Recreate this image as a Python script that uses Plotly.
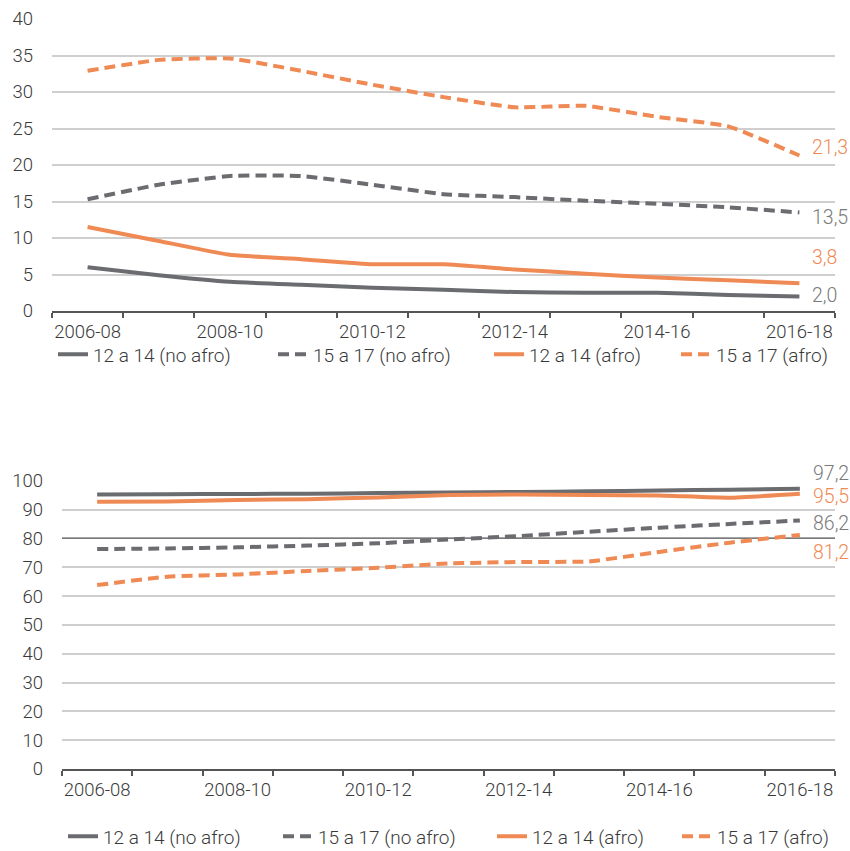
import plotly.graph_objects as go

# ---------------- data ----------------
periods = ["2006-08", "2007-09", "2008-10", "2009-11", "2010-12", "2011-13",
           "2012-14", "2013-15", "2014-16", "2015-17", "2016-18"]
series_names = ["12 a 14 (no afro)", "15 a 17 (no afro)", "12 a 14 (afro)", "15 a 17 (afro)"]

# top chart
top_12_14_no_afro = [6.0, 4.9, 4.0, 3.6, 3.2, 2.9, 2.6, 2.5, 2.5, 2.2, 2.0]
top_15_17_no_afro = [15.3, 17.3, 18.5, 18.5, 17.3, 16.0, 15.6, 15.1, 14.7, 14.2, 13.5]
top_12_14_afro = [11.5, 9.6, 7.7, 7.1, 6.4, 6.4, 5.7, 5.1, 4.6, 4.2, 3.8]
top_15_17_afro = [32.9, 34.4, 34.6, 32.9, 31.0, 29.3, 27.9, 28.1, 26.6, 25.3, 21.3]

# bottom chart
bot_12_14_no_afro = [95.2, 95.3, 95.4, 95.5, 95.7, 95.9, 96.1, 96.3, 96.6, 96.9, 97.2]
bot_15_17_no_afro = [76.3, 76.5, 76.9, 77.5, 78.3, 79.6, 80.8, 82.3, 83.7, 85.0, 86.2]
bot_12_14_afro = [92.7, 92.8, 93.3, 93.6, 94.2, 95.0, 95.2, 95.0, 94.9, 94.1, 95.5]
bot_15_17_afro = [63.8, 66.7, 67.5, 68.7, 69.8, 71.3, 71.8, 72.0, 75.3, 78.5, 81.2]

top_ticks = [0, 5, 10, 15, 20, 25, 30, 35, 40]
bot_ticks = [0, 10, 20, 30, 40, 50, 60, 70, 80, 90, 100]
bot_reference = 80

# ---------------- style ----------------
FONT = "Roboto, sans-serif"
GRAY = "#6b6c70"
ORANGE = "#ef8a55"
LABEL_GRAY = "#7a7a7a"
TEXT = "#3a3a3a"
DASH = "11px,6px"
colors = [GRAY, GRAY, ORANGE, ORANGE]
label_colors = [LABEL_GRAY, LABEL_GRAY, ORANGE, ORANGE]
dashes = ["solid", DASH, "solid", DASH]
top_label_shift = [1, -5, 26, 8]
bot_label_shift = [15, -3, -3, -18]
top_legend_text_x = [100, 320, 536, 723]
bot_legend_text_x = [110, 325, 539, 724]
TICK_FS = 18.5
LEG_FS = 19
LAB_FS = 19.5
WEIGHT = 300

top_series = [top_12_14_no_afro, top_15_17_no_afro, top_12_14_afro, top_15_17_afro]
bot_series = [bot_12_14_no_afro, bot_15_17_no_afro, bot_12_14_afro, bot_15_17_afro]

W, H = 850, 851
fig = go.Figure()
annotations = []
legends = {}

def fmt(v):
    return f"{v:.1f}".replace(".", ",")

for series_set, xa, ya, shifts, ltx, ly, offset in [
        (top_series, "x", "y", top_label_shift, top_legend_text_x, 354.5, 0),
        (bot_series, "x2", "y2", bot_label_shift, bot_legend_text_x, 836.5, 4)]:
    for i, vals in enumerate(series_set):
        lid = "legend" if (offset + i) == 0 else f"legend{offset + i + 1}"
        fig.add_trace(go.Scatter(
            x=periods, y=vals, mode="lines", name=series_names[i],
            xaxis=xa, yaxis=ya, legend=lid, showlegend=True,
            line=dict(color=colors[i], width=4, dash=dashes[i], shape="spline", smoothing=0.4),
            hoverinfo="skip"))
        legends[lid] = dict(
            x=(ltx[i] - 47) / W, y=1 - ly / H, xanchor="left", yanchor="middle",
            orientation="h", bgcolor="rgba(0,0,0,0)", borderwidth=0,
            font=dict(family=FONT, size=LEG_FS, color=TEXT, weight=WEIGHT))
        annotations.append(dict(
            x=periods[-1], y=vals[-1], xref=xa, yref=ya, text=fmt(vals[-1]),
            showarrow=False, xanchor="left", yanchor="middle", xshift=11,
            yshift=shifts[i],
            font=dict(family=FONT, size=LAB_FS, color=label_colors[i], weight=WEIGHT)))

tick_text = [p if j % 2 == 0 else "" for j, p in enumerate(periods)]

def xaxis(domain, anchor):
    return dict(domain=domain, anchor=anchor, type="category", categoryorder="array",
                categoryarray=periods, range=[-0.5, len(periods) - 0.5],
                tickmode="array", tickvals=periods, ticktext=tick_text, tickangle=0,
                tickson="boundaries", ticks="outside", ticklen=5, tickwidth=1.5,
                tickcolor="#555555", showline=True, linecolor="#555555", linewidth=2,
                showgrid=False, zeroline=False, automargin=False, ticklabelstandoff=3,
                tickfont=dict(family=FONT, size=TICK_FS, color=TEXT, weight=WEIGHT))

def yaxis(domain, anchor, ticks):
    return dict(domain=domain, anchor=anchor, range=[ticks[0], ticks[-1]],
                tickmode="array", tickvals=ticks, showgrid=True, gridcolor="#cfcfcf",
                gridwidth=1.5, zeroline=False, showline=False, ticks="",
                ticklabelstandoff=18, automargin=False,
                tickfont=dict(family=FONT, size=TICK_FS, color=TEXT, weight=WEIGHT))

fig.update_layout(
    width=W, height=H, margin=dict(l=0, r=0, t=0, b=0, autoexpand=False),
    paper_bgcolor="white", plot_bgcolor="white", showlegend=True,
    xaxis=xaxis([52 / W, 835 / W], "y"),
    yaxis=yaxis([1 - 311 / H, 1 - 19 / H], "x", top_ticks),
    xaxis2=xaxis([62 / W, 835 / W], "y2"),
    yaxis2=yaxis([1 - 769 / H, 1 - 480.7 / H], "x2", bot_ticks),
    annotations=annotations,
    shapes=[dict(type="line", xref="x2", yref="y2", x0=-0.5, x1=len(periods) - 0.5,
                 y0=bot_reference, y1=bot_reference,
                 line=dict(color="#7a7a7a", width=1.5), layer="between")],
    **legends,
)

fig.write_html("out.html", config={"displayModeBar": False},
               post_script="document.body.style.margin='0px';document.body.style.overflow='hidden';")
